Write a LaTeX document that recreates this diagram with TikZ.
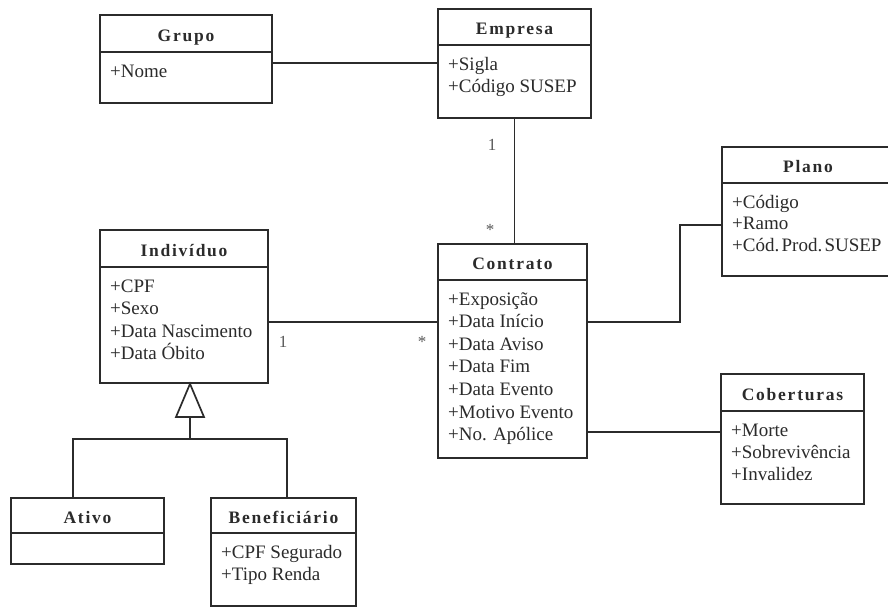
\documentclass[tikz,border=0pt]{standalone}
\usepackage{fontspec}
\setmainfont{Liberation Serif}
\newfontfamily\titlefont[LetterSpace=10]{Liberation Serif}
\definecolor{ink}{gray}{0.17}
\definecolor{multink}{gray}{0.35}
\tikzset{
  line/.style={draw=ink, line width=1.7pt},
  classbox/.style={line, rectangle, inner sep=0pt},
  classtitle/.style={text=ink, inner sep=0pt, font=\titlefont\bfseries\fontsize{17.5}{20}\selectfont},
  attr/.style={text=ink, inner sep=0pt, anchor=base west, font=\fontsize{19}{22}\selectfont},
  mult/.style={text=multink, inner sep=0pt, anchor=base, font=\fontsize{17}{20}\selectfont}
}
% name, x1, y1, x2, y2, ydiv, title
\newcommand\umlbox[7]{%
  \node[classbox, minimum width={(#4)-(#2)}, minimum height={(#5)-(#3)}] (#1) at ({((#2)+(#4))/2},{((#3)+(#5))/2}) {};
  \draw[line] (#1.west |- 0,#6) -- (#1.east |- 0,#6);
  \node[classtitle, anchor=base] (#1-title) at ({((#2)+(#4))/2},{((#3)+(#6))/2+7.5}) {#7};
}
% name, x1, ydiv, spacing, list
\newcommand\umlattrs[5]{%
  \foreach \t [count=\k from 0] in {#5} {
    \node[attr] (#1-a\k) at ({(#2)+10},{(#3)+25+\k*(#4)}) {\t};
  }
}
\begin{document}
\begin{tikzpicture}[x=1pt,y=-1pt]
\useasboundingbox (0,0) rectangle (888,608);
\clip (0,0) rectangle (888,608);
\fill[white] (0,0) rectangle (888,608);

\umlbox{grupo}{100}{15}{272}{103}{52}{Grupo}
\umlattrs{grupo}{100}{52}{22.5}{+Nome}

\umlbox{empresa}{438}{9}{591}{118}{45}{Empresa}
\umlattrs{empresa}{438}{45}{22.5}{+Sigla,+Código SUSEP}

\umlbox{plano}{722}{147}{894}{276}{183}{Plano}
\umlattrs{plano}{722}{183}{21.5}{+Código,+Ramo,{\spaceskip=0.12em\xspaceskip=0.12em +Cód. Prod. SUSEP}}

\umlbox{individuo}{100}{230}{268}{383}{267}{Indivíduo}
\umlattrs{individuo}{100}{267}{22.5}{+CPF,+Sexo,+Data Nascimento,+Data Óbito}

\umlbox{contrato}{438}{244}{587}{458}{280}{Contrato}
\umlattrs{contrato}{438}{280}{22.6}{+Exposição,+Data Início,+Data Aviso,+Data Fim,+Data Evento,+Motivo Evento,+No. Apólice}

\umlbox{coberturas}{721}{374}{864}{504}{411}{Coberturas}
\umlattrs{coberturas}{721}{411}{22}{+Morte,+Sobrevivência,+Invalidez}

\umlbox{ativo}{11}{498}{164}{564}{533}{Ativo}

\umlbox{beneficiario}{211}{498}{356}{606}{533}{Beneficiário}
\umlattrs{beneficiario}{211}{533}{22.5}{+CPF Segurado,+Tipo Renda}

% associations
\draw[line] (grupo.east |- 0,63) -- (empresa.west |- 0,63);
\draw[line] (empresa.south) -- (empresa.south |- contrato.north);
\draw[line] (individuo.east |- 0,322) -- (contrato.west |- 0,322);
\coordinate (pbend) at (680,322);
\draw[line] (contrato.east |- pbend) -- (pbend) -- (pbend |- 0,225) -- (plano.west |- 0,225);
\draw[line] (contrato.east |- 0,432) -- (coberturas.west |- 0,432);

% multiplicities
\node[mult] (m-emp) at (492,150) {1};
\node[mult] (m-con1) at (490,235) {*};
\node[mult] (m-ind) at (283,347) {1};
\node[mult] (m-con2) at (422,347) {*};

% generalization
\coordinate (gtip) at (individuo.south -| 190,0);
\coordinate (gbase) at (190,417);
\coordinate (gj) at (190,439);
\draw[line, fill=white, line join=miter] (gtip) -- ([xshift=-14pt]gbase) -- ([xshift=14pt]gbase) -- cycle;
\draw[line] (gbase) -- (gj);
\draw[line] (ativo.north -| 73,0) |- (gj) -| (beneficiario.north -| 287,0);
\end{tikzpicture}
\end{document}
